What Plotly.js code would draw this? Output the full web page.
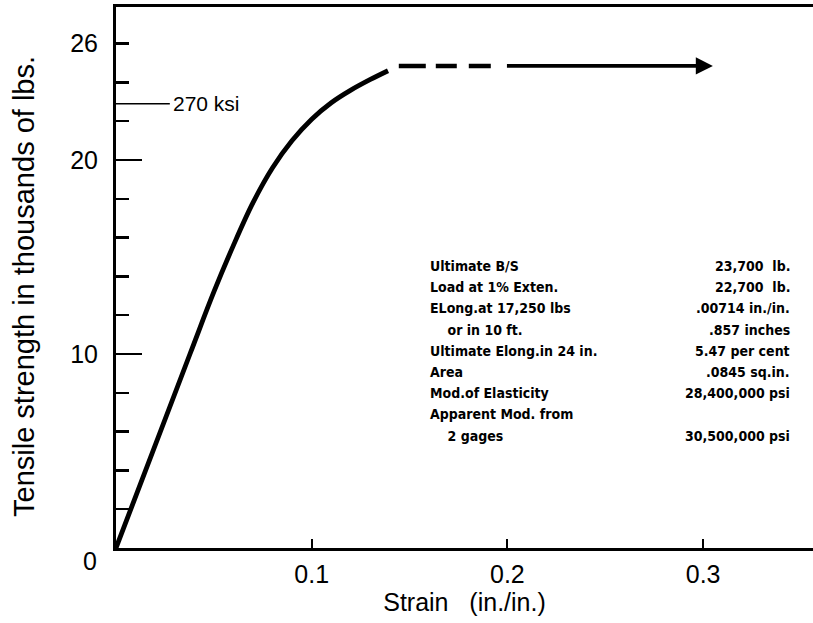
<!DOCTYPE html>
<html>
<head>
<meta charset="utf-8">
<script src="https://cdn.plot.ly/plotly-3.0.1.min.js"></script>
<style>html,body{margin:0;padding:0;background:#fff;}#chart{width:813px;height:623px;}</style>
</head>
<body>
<div id="chart"></div>
<script>
// ---- data ----
const strainSolid = [0, 0.0378, 0.0500, 0.0600, 0.0700, 0.0800, 0.0900, 0.1000, 0.1100, 0.1200, 0.1300, 0.1390];
const loadSolid   = [0, 10.0, 13.2, 15.6, 17.8, 19.6, 21.0, 22.1, 22.95, 23.6, 24.15, 24.6];
const strainDashed = [0.1445, 0.1925];
const loadDashed   = [24.85, 24.85];
const arrowStart = [0.199, 24.85];
const arrowEnd   = [0.305, 24.85];
const ksiStrain = [0, 0.0275];
const ksiLoad   = [22.9, 22.9];
const ksiLabel = "270 ksi";
const xTickVals = [0.1, 0.2, 0.3];
const xTickText = ["0.1", "0.2", "0.3"];
const yTickVals = [10, 20, 26];
const yTickText = ["10", "20", "26"];
const yLongTicks = [10, 20];
const yTitle = "Tensile strength in thousands of lbs.";
const xTitle = "Strain\u00a0\u00a0\u00a0(in./in.)";
const tableLabels = ["Ultimate B/S", "Load at 1% Exten.", "ELong.at 17,250 lbs", "\u00a0\u00a0\u00a0\u00a0or in 10 ft.",
  "Ultimate Elong.in 24 in.", "Area", "Mod.of Elasticity", "Apparent Mod. from", "\u00a0\u00a0\u00a0\u00a02 gages"];
const tableValues = ["23,700  lb.", "22,700  lb.", ".00714 in./in.", ".857 inches",
  "5.47 per cent", ".0845 sq.in.", "28,400,000 psi", "", "30,500,000 psi"];

// ---- layout geometry ----
const W = 813, H = 623, ML = 116, MT = 7, MB = 75, MR = 0;
const PW = W - ML - MR, PH = H - MT - MB;
const px2x = p => (p - ML) / PW;
const py2y = p => (H - MB - p) / PH;

const traces = [
  {x: strainSolid, y: loadSolid, mode: 'lines', line: {color: '#000', width: 4.8, shape: 'spline', smoothing: 1}, hoverinfo: 'skip'},
  {x: strainDashed, y: loadDashed, mode: 'lines', line: {color: '#000', width: 4.5, dash: '27px,10px,21px,12px,22px,14px'}, hoverinfo: 'skip'},
  {x: ksiStrain, y: ksiLoad, mode: 'lines', line: {color: '#000', width: 1.5}, yaxis: 'y2', hoverinfo: 'skip'}
];

const baseFont = 'Arial, "Liberation Sans", sans-serif';
const tableFont = {family: '"Liberation Sans Narrow", "DejaVu Sans Condensed", Arial, sans-serif', size: 14, color: '#000', weight: 'bold'};
const annotations = [];
tableLabels.forEach((t, i) => {
  const py = 266 + i * 21.2;
  annotations.push({xref: 'paper', yref: 'paper', x: px2x(428), y: py2y(py), text: t, showarrow: false,
    xanchor: 'left', yanchor: 'middle', font: tableFont});
  if (tableValues[i]) annotations.push({xref: 'paper', yref: 'paper', x: px2x(792), y: py2y(py), text: tableValues[i], showarrow: false,
    xanchor: 'right', yanchor: 'middle', font: tableFont});
});
annotations.push({x: ksiStrain[1], y: ksiLoad[1], xref: 'x', yref: 'y', text: ksiLabel, showarrow: false,
  xanchor: 'left', yanchor: 'middle', xshift: 1, font: {family: baseFont, size: 21, color: '#000'}});
annotations.push({x: 0, y: 0, xref: 'x', yref: 'y', text: '0', showarrow: false, xanchor: 'right', yanchor: 'middle',
  xshift: -17, yshift: -13, font: {family: baseFont, size: 25, color: '#000'}});
annotations.push({x: arrowEnd[0], y: arrowEnd[1], ax: arrowStart[0], ay: arrowStart[1], xref: 'x', yref: 'y', axref: 'x', ayref: 'y',
  text: '', showarrow: true, arrowhead: 2, arrowsize: 0.9, arrowwidth: 3.8, arrowcolor: '#000'});
annotations.push({xref: 'paper', yref: 'paper', x: px2x(24), y: py2y(287), text: yTitle, textangle: -90, showarrow: false,
  xanchor: 'center', yanchor: 'middle', font: {family: baseFont, size: 29, color: '#000'}});

const tickFont = {family: baseFont, size: 25, color: '#000'};
const layout = {
  width: W, height: H, margin: {l: ML, r: MR, t: MT, b: MB, pad: 0},
  paper_bgcolor: '#fff', plot_bgcolor: '#fff', showlegend: false,
  font: {family: baseFont, color: '#000'},
  xaxis: {range: [0, PW / 1957], showline: true, linecolor: '#000', linewidth: 2.8, mirror: true,
    ticks: 'inside', tickvals: xTickVals, ticktext: xTickText, ticklen: 9, tickwidth: 2, tickcolor: '#000',
    showgrid: false, zeroline: false, tickfont: tickFont, ticklabelstandoff: 2,
    title: {text: xTitle, font: {size: 25, color: '#000'}, standoff: 6}},
  yaxis: {range: [0, PH / 19.4], showline: true, linecolor: '#000', linewidth: 3,
    ticks: 'inside', tickvals: yTickVals, ticktext: yTickText, ticklen: 13, tickwidth: 2.5, tickcolor: '#000',
    minor: {tickmode: 'linear', tick0: 0, dtick: 2, ticks: 'inside', ticklen: 13, tickwidth: 2.5, tickcolor: '#000'},
    showgrid: false, zeroline: false, tickfont: tickFont, ticklabelstandoff: 10},
  yaxis2: {range: [0, PH / 19.4], overlaying: 'y', side: 'left', showline: false, showgrid: false, zeroline: false,
    ticks: 'inside', tickvals: yLongTicks, ticklen: 26, tickwidth: 2.5, tickcolor: '#000', showticklabels: false},
  annotations: annotations
};
Plotly.newPlot('chart', traces, layout, {staticPlot: true, displayModeBar: false});
</script>
</body>
</html>
